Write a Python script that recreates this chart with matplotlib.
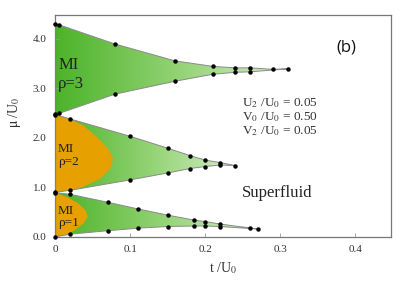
import matplotlib
matplotlib.use("Agg")
import matplotlib.pyplot as plt
import numpy as np
from matplotlib.patches import Polygon
from matplotlib.colors import LinearSegmentedColormap

plt.rcParams['font.family'] = ['Liberation Serif', 'DejaVu Serif']
plt.rcParams['mathtext.fontset'] = 'stix'

# Mott lobe boundaries (t/U0, mu/U0)
t3_up = [0, 0.005, 0.08, 0.16, 0.21, 0.24, 0.26, 0.29, 0.31]
mu3_up = [4.30, 4.28, 3.89, 3.55, 3.44, 3.41, 3.41, 3.38, 3.39]
t3_lo = [0, 0.005, 0.08, 0.16, 0.21, 0.24, 0.26]
mu3_lo = [2.46, 2.49, 2.88, 3.14, 3.28, 3.32, 3.33]

t2_up = [0, 0.02, 0.10, 0.15, 0.18, 0.20, 0.22, 0.24]
mu2_up = [2.47, 2.38, 2.03, 1.79, 1.64, 1.55, 1.50, 1.44]
t2_lo = [0, 0.02, 0.10, 0.15, 0.18, 0.20, 0.22]
mu2_lo = [0.90, 0.94, 1.15, 1.29, 1.38, 1.42, 1.45]

t1_up = [0, 0.02, 0.07, 0.11, 0.15, 0.185, 0.20, 0.22, 0.26, 0.27]
mu1_up = [0.895, 0.86, 0.70, 0.566, 0.44, 0.34, 0.31, 0.26, 0.18, 0.16]
t1_lo = [0, 0.02, 0.07, 0.11, 0.15, 0.185, 0.20, 0.22]
mu1_lo = [0.0, 0.055, 0.125, 0.176, 0.21, 0.22, 0.22, 0.21]

# orange inner regions
or2_mu = [0.85, 1.02, 1.19, 1.39, 1.59, 1.79, 2.00, 2.26, 2.38, 2.47]
or2_t = [0.0, 0.037, 0.060, 0.073, 0.077, 0.070, 0.057, 0.037, 0.020, 0.0]
or1_mu = [0.0, 0.04, 0.14, 0.28, 0.41, 0.545, 0.68, 0.81, 0.90]
or1_t = [0.0, 0.011, 0.025, 0.037, 0.043, 0.040, 0.031, 0.016, 0.0]

xticks = [0, 0.1, 0.2, 0.3, 0.4]
xticklabels = ['0', '0.1', '0.2', '0.3', '0.4']
yticks = [0, 1, 2, 3, 4]
yticklabels = ['0.0', '1.0', '2.0', '3.0', '4.0']

green = LinearSegmentedColormap.from_list('g', ['#4cb329', '#8fd170', '#d2eec4'])
orange = '#e6a100'

fig = plt.figure(figsize=(4.14, 2.90), dpi=100)
ax = fig.add_axes([0.133, 0.183, 0.812, 0.766])

lobes = [(t1_up, mu1_up, t1_lo, mu1_lo), (t2_up, mu2_up, t2_lo, mu2_lo),
         (t3_up, mu3_up, t3_lo, mu3_lo)]
polys = []
for tu, mu_u, tl, mu_l in lobes:
    xs = list(tu) + list(tl[::-1])
    ys = list(mu_u) + list(mu_l[::-1])
    poly = Polygon(np.column_stack([xs, ys]), closed=True, facecolor='none',
                   edgecolor='#8a8a8a', lw=0.7, zorder=4)
    ax.add_patch(poly)
    grad = np.linspace(0, 1, 256).reshape(1, -1)
    im = ax.imshow(grad, cmap=green, aspect='auto', zorder=1,
                   extent=(0, max(xs), min(ys), max(ys)), interpolation='bilinear')
    im.set_clip_path(poly)
    polys.append(poly)

f1 = ax.fill_betweenx(or1_mu, 0, or1_t, color=orange, lw=0, zorder=2)
f1.set_clip_path(polys[0])
f2 = ax.fill_betweenx(or2_mu, 0, or2_t, color=orange, lw=0, zorder=2)
f2.set_clip_path(polys[1])

for tu, mu_u, tl, mu_l in lobes:
    ax.plot(tu, mu_u, 'o', color='black', ms=2.2, zorder=5, clip_on=False)
    ax.plot(tl, mu_l, 'o', color='black', ms=2.2, zorder=5, clip_on=False)

ax.set_xlim(0, 0.448)
ax.set_ylim(0, 4.48)
ax.set_xticks(xticks)
ax.set_xticklabels(xticklabels)
ax.set_yticks(yticks)
ax.set_yticklabels(yticklabels)
ax.tick_params(direction='in', length=3, width=0.6, color='#999999',
               labelsize=8, labelcolor='#333333', pad=6)
for s in ax.spines.values():
    s.set_color('#777777')
    s.set_linewidth(0.9)

ax.set_xlabel(r't /U$_0$', fontsize=10, color='#333333', labelpad=4)
ax.set_ylabel(r'$\mathrm{\mu}$ /U$_0$', fontsize=10, color='#333333', labelpad=4)
ax.yaxis.set_label_coords(-0.095, 0.56)

ax.text(0.004, 3.47, 'MI', fontsize=12, color='#222222', va='center')
ax.text(0.004, 3.08, 'ρ=3', fontsize=12, color='#222222', va='center')
ax.text(0.004, 1.77, 'MI', fontsize=9.5, color='#222222', va='center')
ax.text(0.004, 1.52, 'ρ=2', fontsize=9.5, color='#222222', va='center')
ax.text(0.004, 0.53, 'MI', fontsize=9.5, color='#222222', va='center')
ax.text(0.004, 0.29, 'ρ=1', fontsize=9.5, color='#222222', va='center')

ax.text(0.388, 3.82, '(b)', fontsize=12, family=['Open Sans', 'DejaVu Sans'],
        ha='center', va='center', color='#111111')
ax.text(0.249, 2.70, r'U$_2$ /U$_0$ = 0.05', fontsize=9.5, color='#333333', va='center')
ax.text(0.249, 2.42, r'V$_0$ /U$_0$ = 0.50', fontsize=9.5, color='#333333', va='center')
ax.text(0.249, 2.14, r'V$_2$ /U$_0$ = 0.05', fontsize=9.5, color='#333333', va='center')
ax.text(0.249, 0.89, 'Superfluid', fontsize=12, color='#222222', va='center')

fig.savefig('out.png', dpi=100)
